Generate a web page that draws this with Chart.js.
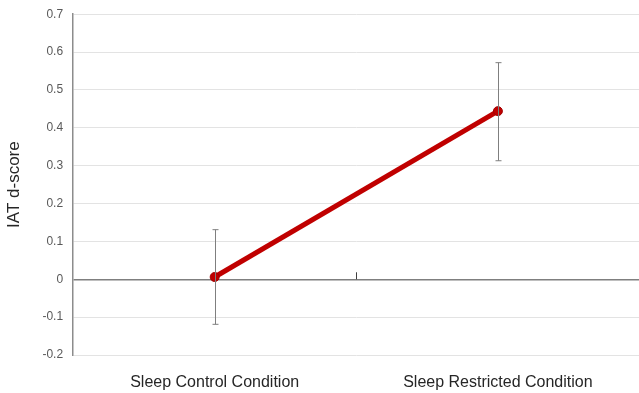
<!DOCTYPE html>
<html>
<head>
<meta charset="utf-8">
<script src="https://cdn.jsdelivr.net/npm/chart.js@4/dist/chart.umd.min.js"></script>
<style>
  html, body { margin: 0; padding: 0; background: #fff; overflow: hidden; }
  #wrap { width: 645px; height: 396px; margin-top: -3px; }
</style>
</head>
<body>
<div id="wrap"><canvas id="chart"></canvas></div>
<script>
const conditions = ["Sleep Control Condition", "Sleep Restricted Condition"];
const dScores = [0.006, 0.444];
const errUp = [0.125, 0.128];
const errDown = [0.125, 0.131];

const isZero = v => Math.abs(v) < 1e-9;

// error bars + the little separator tick on the zero line
const extras = {
  id: "extras",
  afterDatasetsDraw(chart) {
    const { ctx, scales: { x, y } } = chart;
    ctx.save();
    ctx.strokeStyle = "#7f7f7f";
    ctx.lineWidth = 1;
    dScores.forEach((v, i) => {
      const px = Math.round(x.getPixelForValue(i)) + 0.5;
      const top = y.getPixelForValue(v + errUp[i]);
      const bot = y.getPixelForValue(v - errDown[i]);
      ctx.beginPath();
      ctx.moveTo(px, top); ctx.lineTo(px, bot);
      ctx.moveTo(px - 3, top); ctx.lineTo(px + 3, top);
      ctx.moveTo(px - 3, bot); ctx.lineTo(px + 3, bot);
      ctx.stroke();
    });
    const mid = Math.round((x.getPixelForValue(0) + x.getPixelForValue(1)) / 2) + 0.5;
    const y0 = y.getPixelForValue(0);
    ctx.strokeStyle = "#404040";
    ctx.beginPath();
    ctx.moveTo(mid, y0); ctx.lineTo(mid, y0 - 7);
    ctx.stroke();
    ctx.restore();
  }
};

new Chart(document.getElementById("chart"), {
  type: "line",
  data: {
    labels: conditions,
    datasets: [{
      data: dScores,
      borderColor: "#c00000",
      backgroundColor: "#c00000",
      borderWidth: 5,
      pointRadius: 4.5,
      pointBorderWidth: 1,
      pointBorderColor: "#a00000",
      pointBackgroundColor: "#c00000",
    }],
  },
  options: {
    responsive: true,
    maintainAspectRatio: false,
    animation: false,
    layout: { padding: { top: 5, bottom: 0, left: 0, right: 0 } },
    plugins: { legend: { display: false }, tooltip: { enabled: false } },
    scales: {
      x: {
        offset: true,
        grid: { display: false, drawTicks: false },
        border: { display: false },
        afterFit: s => { s.height = 38; },
        ticks: {
          color: "#262626",
          font: { family: "Liberation Sans", size: 16 },
          padding: 18,
          maxRotation: 0,
        },
      },
      y: {
        min: -0.2,
        max: 0.7,
        ticks: {
          stepSize: 0.1,
          color: "#595959",
          font: { family: "Liberation Sans", size: 12 },
          padding: 10,
          callback: v => Math.round(v * 10) / 10,
        },
        grid: {
          drawTicks: false,
          color: c => isZero(c.tick.value) ? "#7f7f7f" : "#e3e3e3",
          lineWidth: c => isZero(c.tick.value) ? 1.5 : 1,
        },
        border: { color: "#8c8c8c", width: 1.5 },
        title: {
          display: true,
          text: "IAT d-score",
          color: "#262626",
          font: { family: "Liberation Sans", size: 17 },
          padding: { bottom: 8 },
        },
      },
    },
  },
  plugins: [extras],
});
</script>
</body>
</html>
